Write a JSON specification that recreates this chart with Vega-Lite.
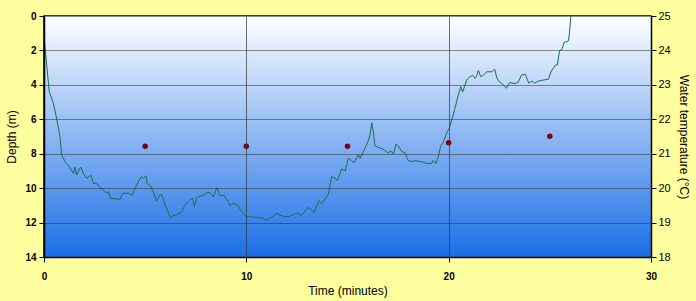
{
"$schema": "https://vega.github.io/schema/vega-lite/v6.json",
"width": 607,
"height": 241,
"autosize": "none",
"padding": {"left": 44, "top": 16, "right": 45, "bottom": 44},
"background": "#FFFFA0",
"config": {"font": "Liberation Sans", "view": {"stroke": "#000000", "strokeWidth": 1.5}},
"datasets": {
"depth": [
{"t":0,"d":1.2},{"t":0.13,"d":2.8},{"t":0.26,"d":4.4},{"t":0.46,"d":5.07},{"t":0.6,"d":5.8},{"t":0.79,"d":7.0},{"t":0.87,"d":8.07},{"t":1.04,"d":8.46},{"t":1.25,"d":8.75},{"t":1.45,"d":9.14},{"t":1.53,"d":8.77},{"t":1.61,"d":9.24},{"t":1.75,"d":8.87},{"t":1.83,"d":8.79},{"t":1.94,"d":9.14},{"t":2.11,"d":9.43},{"t":2.31,"d":9.24},{"t":2.44,"d":9.72},{"t":2.6,"d":9.72},{"t":2.69,"d":9.88},{"t":2.93,"d":10.1},{"t":3.1,"d":10.3},{"t":3.18,"d":10.2},{"t":3.3,"d":10.6},{"t":3.51,"d":10.6},{"t":3.63,"d":10.65},{"t":3.76,"d":10.65},{"t":3.89,"d":10.3},{"t":4.09,"d":10.3},{"t":4.2,"d":10.28},{"t":4.33,"d":10.44},{"t":4.5,"d":10.0},{"t":4.71,"d":9.53},{"t":4.83,"d":9.33},{"t":4.91,"d":9.43},{"t":5.04,"d":9.28},{"t":5.1,"d":9.72},{"t":5.24,"d":9.85},{"t":5.4,"d":10.2},{"t":5.57,"d":10.75},{"t":5.73,"d":10.4},{"t":5.82,"d":10.36},{"t":5.98,"d":10.98},{"t":6.06,"d":11.17},{"t":6.26,"d":11.75},{"t":6.39,"d":11.56},{"t":6.5,"d":11.6},{"t":6.8,"d":11.37},{"t":6.97,"d":10.98},{"t":7.22,"d":10.65},{"t":7.35,"d":10.6},{"t":7.43,"d":11.08},{"t":7.55,"d":10.55},{"t":7.79,"d":10.44},{"t":7.87,"d":10.4},{"t":8.04,"d":10.26},{"t":8.2,"d":10.26},{"t":8.37,"d":10.52},{"t":8.55,"d":9.96},{"t":8.7,"d":10.45},{"t":8.88,"d":10.4},{"t":9.11,"d":10.79},{"t":9.19,"d":11.0},{"t":9.36,"d":10.87},{"t":9.56,"d":10.98},{"t":9.72,"d":11.27},{"t":9.93,"d":11.6},{"t":10.1,"d":11.66},{"t":10.26,"d":11.66},{"t":10.51,"d":11.7},{"t":10.84,"d":11.75},{"t":10.95,"d":11.85},{"t":11.17,"d":11.75},{"t":11.42,"d":11.56},{"t":11.5,"d":11.46},{"t":11.66,"d":11.56},{"t":11.9,"d":11.66},{"t":12.16,"d":11.64},{"t":12.49,"d":11.44},{"t":12.73,"d":11.57},{"t":13.06,"d":11.12},{"t":13.23,"d":11.27},{"t":13.34,"d":11.42},{"t":13.6,"d":10.73},{"t":13.72,"d":10.92},{"t":14.05,"d":10.35},{"t":14.22,"d":9.33},{"t":14.38,"d":9.43},{"t":14.5,"d":9.55},{"t":14.71,"d":8.88},{"t":14.88,"d":9.0},{"t":15.04,"d":8.27},{"t":15.2,"d":8.4},{"t":15.32,"d":8.52},{"t":15.54,"d":8.07},{"t":15.62,"d":8.27},{"t":15.78,"d":7.88},{"t":16.03,"d":7.24},{"t":16.11,"d":6.91},{"t":16.2,"d":6.2},{"t":16.28,"d":6.82},{"t":16.36,"d":7.55},{"t":16.52,"d":7.63},{"t":16.77,"d":7.75},{"t":17.02,"d":7.98},{"t":17.13,"d":7.82},{"t":17.27,"d":8.02},{"t":17.4,"d":7.45},{"t":17.51,"d":7.55},{"t":17.68,"d":7.88},{"t":17.84,"d":7.94},{"t":18.0,"d":8.4},{"t":18.17,"d":8.46},{"t":18.34,"d":8.4},{"t":18.58,"d":8.46},{"t":18.67,"d":8.46},{"t":18.91,"d":8.56},{"t":19.16,"d":8.56},{"t":19.24,"d":8.4},{"t":19.37,"d":8.56},{"t":19.49,"d":8.17},{"t":19.6,"d":7.59},{"t":19.74,"d":7.3},{"t":19.9,"d":6.8},{"t":20.03,"d":6.52},{"t":20.15,"d":6.04},{"t":20.31,"d":5.36},{"t":20.48,"d":4.59},{"t":20.6,"d":4.1},{"t":20.69,"d":4.42},{"t":20.89,"d":3.72},{"t":21.05,"d":3.53},{"t":21.19,"d":3.45},{"t":21.3,"d":3.62},{"t":21.38,"d":3.5},{"t":21.47,"d":3.16},{"t":21.58,"d":3.52},{"t":21.71,"d":3.45},{"t":21.88,"d":3.24},{"t":22.13,"d":3.24},{"t":22.28,"d":3.09},{"t":22.38,"d":3.6},{"t":22.5,"d":3.82},{"t":22.7,"d":4.0},{"t":22.85,"d":4.2},{"t":23.02,"d":3.87},{"t":23.27,"d":3.93},{"t":23.43,"d":3.85},{"t":23.6,"d":3.43},{"t":23.78,"d":3.38},{"t":23.96,"d":3.9},{"t":24.11,"d":3.78},{"t":24.25,"d":3.9},{"t":24.42,"d":3.78},{"t":24.67,"d":3.72},{"t":24.93,"d":3.67},{"t":25.07,"d":3.2},{"t":25.28,"d":2.85},{"t":25.37,"d":2.85},{"t":25.48,"d":2.02},{"t":25.6,"d":1.94},{"t":25.71,"d":1.52},{"t":25.82,"d":1.5},{"t":25.92,"d":1.45},{"t":25.96,"d":1.1},{"t":26.04,"d":0}
],
"temp": [
{"t":5,"temp":21.22},{"t":10,"temp":21.22},{"t":15,"temp":21.22},{"t":20,"temp":21.32},{"t":25,"temp":21.51}
]
},
"layer": [
{"layer": [
{"data": {"values": [{"x0": 0, "x1": 30, "y0": 0, "y1": 14}]},
"mark": {"type": "rect", "fill": {"gradient": "linear", "x1": 0, "y1": 0, "x2": 0, "y2": 1, "stops": [{"offset": 0, "color": "#ffffff"}, {"offset": 1, "color": "#1a6ee6"}]}},
"encoding": {
"x": {"field": "x0", "type": "quantitative", "scale": {"domain": [0, 30], "nice": false},
"axis": {"values": [0, 10, 20, 30], "grid": true, "gridColor": "#333333", "gridOpacity": 0.7, "zindex": 1, "domainColor": "#000000", "domainWidth": 1.5, "tickColor": "#000000", "tickSize": 5, "labelFontSize": 10, "labelFontWeight": "bold", "labelColor": "#000000", "labelPadding": 9, "labelFlush": false, "title": "Time (minutes)", "titleFontSize": 12, "titleFontWeight": "normal", "titleColor": "#000000", "titlePadding": 4}},
"x2": {"field": "x1"},
"y": {"field": "y0", "type": "quantitative", "scale": {"domain": [0, 14], "reverse": true, "nice": false},
"axis": {"values": [0, 2, 4, 6, 8, 10, 12, 14], "labelOverlap": false, "grid": true, "gridColor": "#333333", "gridOpacity": 0.55, "zindex": 1, "domainColor": "#000000", "domainWidth": 1.5, "tickColor": "#000000", "tickSize": 5, "labelFontSize": 10, "labelFontWeight": "bold", "labelColor": "#000000", "labelPadding": 3, "title": "Depth (m)", "titleFontSize": 12, "titleFontWeight": "normal", "titleColor": "#000000", "titlePadding": 6}},
"y2": {"field": "y1"}
}},
{"data": {"name": "depth"},
"mark": {"type": "line", "color": "#1b6e4e", "strokeWidth": 1},
"encoding": {"x": {"field": "t", "type": "quantitative"},
"y": {"field": "d", "type": "quantitative",
"axis": {"values": [0, 2, 4, 6, 8, 10, 12, 14], "labelOverlap": false, "grid": true, "gridColor": "#333333", "gridOpacity": 0.55, "zindex": 1, "domainColor": "#000000", "domainWidth": 1.5, "tickColor": "#000000", "tickSize": 5, "labelFontSize": 10, "labelFontWeight": "bold", "labelColor": "#000000", "labelPadding": 3, "title": "Depth (m)", "titleFontSize": 12, "titleFontWeight": "normal", "titleColor": "#000000", "titlePadding": 6}}}}
]},
{"data": {"name": "temp"},
"mark": {"type": "circle", "color": "#7a0010", "size": 30, "opacity": 1},
"encoding": {
"x": {"field": "t", "type": "quantitative"},
"y": {"field": "temp", "type": "quantitative", "scale": {"domain": [18, 25], "nice": false},
"axis": {"orient": "right", "values": [18, 19, 20, 21, 22, 23, 24, 25], "labelOverlap": false, "grid": false, "zindex": 1, "domainColor": "#000000", "domainWidth": 1.5, "tickColor": "#000000", "tickSize": 5, "labelFontSize": 11, "labelFontWeight": "normal", "labelColor": "#000000", "labelPadding": 2, "title": "Water temperature (°C)", "titleFontSize": 12, "titleFontWeight": "normal", "titleColor": "#000000", "titlePadding": 6}}
}}
],
"resolve": {"scale": {"y": "independent"}}
}
